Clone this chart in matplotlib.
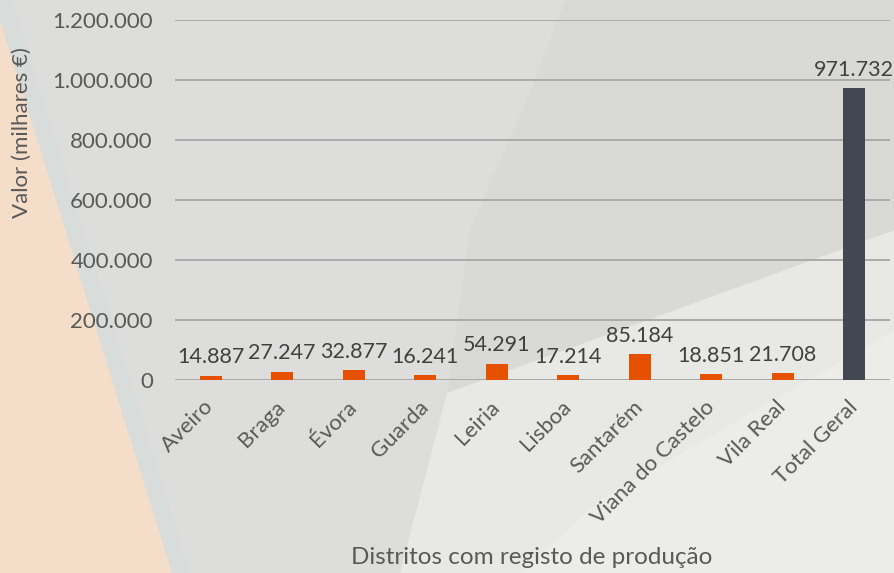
import numpy as np
import matplotlib
matplotlib.use("Agg")
import matplotlib.pyplot as plt
from matplotlib.patches import Polygon
from matplotlib.ticker import FuncFormatter

plt.rcParams['font.family'] = ['Lato', 'DejaVu Sans']

# data (milhares de euros)
districts = ['Aveiro', 'Braga', 'Évora', 'Guarda', 'Leiria', 'Lisboa',
             'Santarém', 'Viana do Castelo', 'Vila Real', 'Total Geral']
values = [14887, 27247, 32877, 16241, 54291, 17214, 85184, 18851, 21708, 971732]
yticks = [0, 200000, 400000, 600000, 800000, 1000000, 1200000]

W, H = 895, 573
fig = plt.figure(figsize=(W / 100, H / 100), dpi=100)
fig.patch.set_facecolor('#dddedb')


def px(pts):
    # pixel coords -> figure fraction
    return [(x / W, 1 - y / H) for x, y in pts]


# background shapes
bg = [
    ([(0, 0), (0, 573), (190, 573), (12, 0)], '#d8dcdb'),
    ([(0, 20), (0, 573), (172, 573)], '#f5dec9'),
    ([(533, 85), (565, 0), (895, 0), (895, 230), (447, 393), (470, 230)], '#d9dad6'),
    ([(400, 573), (447, 393), (895, 230), (895, 573)], '#e8e9e4'),
    ([(520, 573), (600, 500), (895, 330), (895, 573)], '#ececE8'),
]
for pts, col in bg:
    fig.add_artist(Polygon(px(pts), closed=True, facecolor=col, edgecolor='none',
                           transform=fig.transFigure, zorder=-10))

ax = fig.add_axes([175 / W, 1 - 380 / H, 715 / W, 360 / H])
ax.set_facecolor('none')

x = np.arange(len(districts))
colors = ['#e65100'] * (len(districts) - 1) + ['#414851']
bars = ax.bar(x, values, width=0.31, color=colors, zorder=3)

for xi, v in zip(x, values):
    ax.annotate(f'{v:,}'.replace(',', '.'), (xi, v), xytext=(0, 6),
                textcoords='offset points', ha='center', va='bottom',
                fontsize=15.5, color='#404040')

ax.set_xlim(-0.5, len(districts) - 0.5)
ax.set_ylim(0, 1200000)
ax.set_yticks(yticks)
ax.yaxis.set_major_formatter(FuncFormatter(lambda v, p: f'{int(v):,}'.replace(',', '.')))
ax.grid(axis='y', color='#a6a6a6', linewidth=1.3, zorder=0)
ax.axhline(0, color='#d0d0d0', linewidth=1.3, zorder=1)
for s in ax.spines.values():
    s.set_visible(False)

ax.tick_params(axis='y', length=0, pad=16, labelsize=16, labelcolor='#595959')
ax.tick_params(axis='x', length=0, pad=17, labelsize=16, labelcolor='#595959')
ax.set_xticks(x)
ax.set_xticklabels(districts, rotation=45, ha='right', va='center',
                   rotation_mode='anchor')

fig.text(22 / W, 1 - 133 / H, 'Valor (milhares €)', rotation=90, ha='center',
         va='center', fontsize=16, color='#595959')
fig.text(532 / W, 1 - 557 / H, 'Distritos com registo de produção', ha='center',
         va='center', fontsize=17.5, color='#595959')

fig.savefig('out.png', dpi=100, facecolor=fig.get_facecolor())
